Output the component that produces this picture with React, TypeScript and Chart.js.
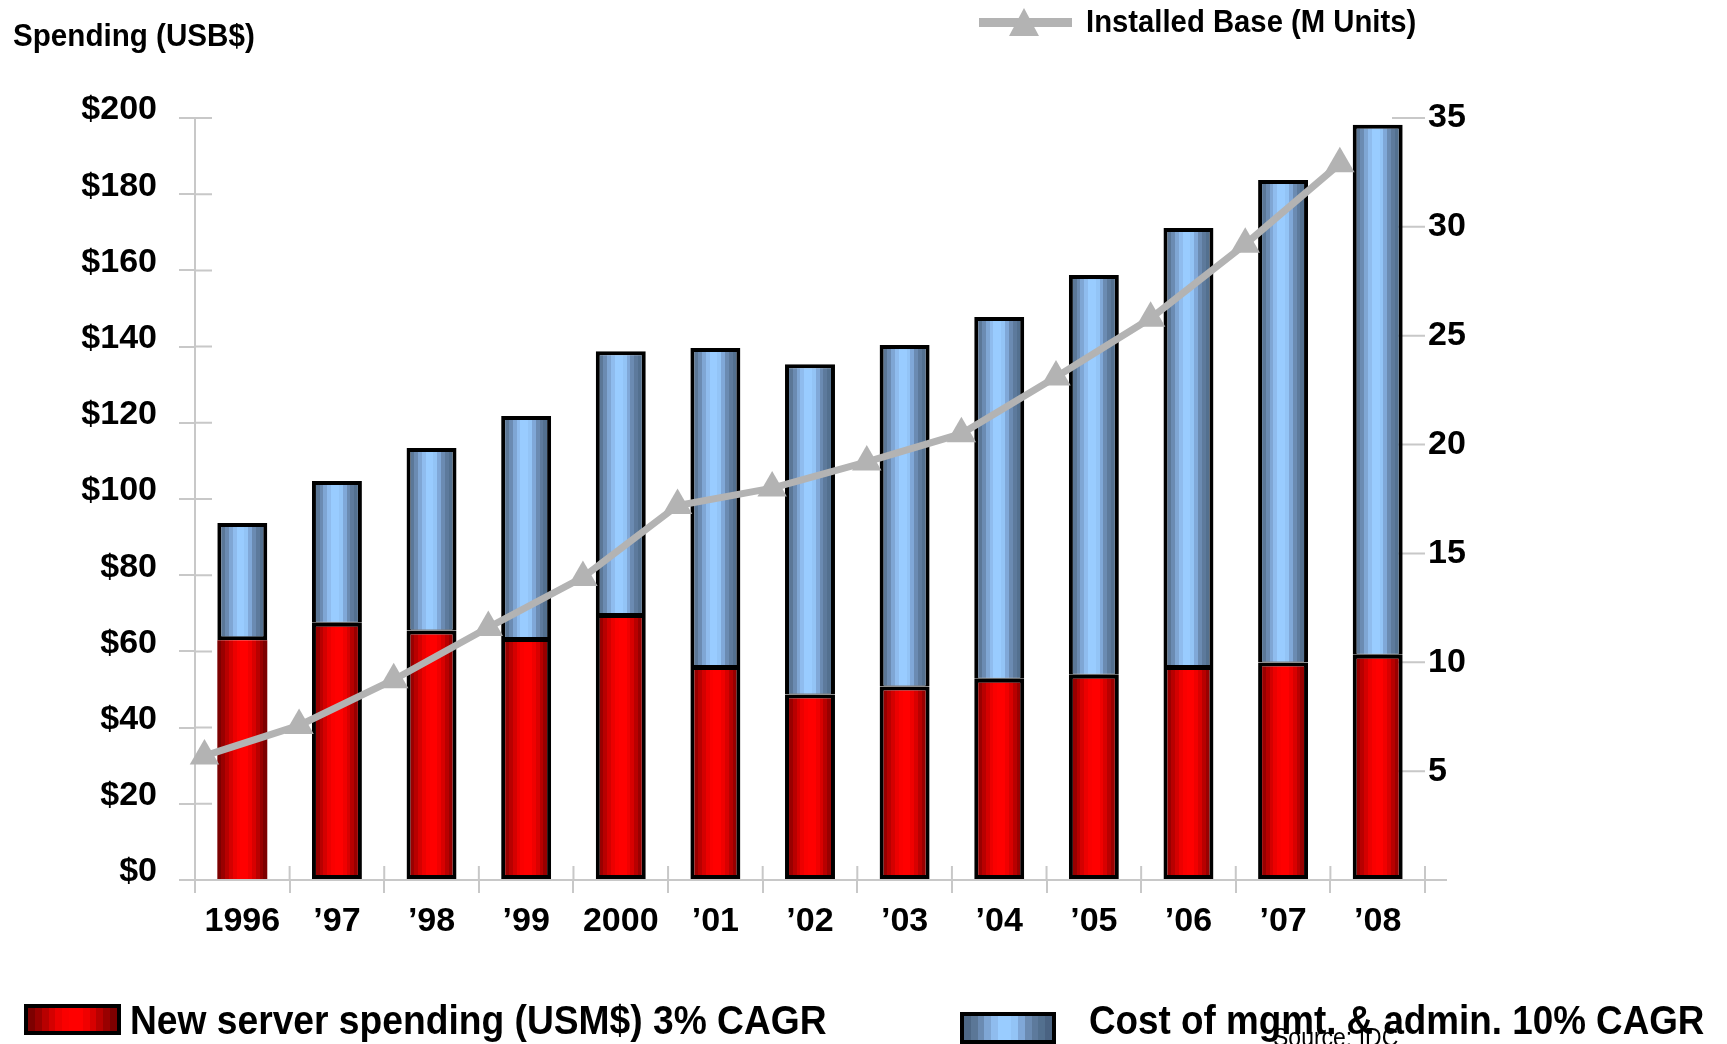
import React, { useEffect, useRef } from 'react';
import { Chart, registerables } from 'chart.js';

Chart.register(...registerables);

// ---------- data ----------
const categories = ['1996', '\u201997', '\u201998', '\u201999', '2000', '\u201901', '\u201902', '\u201903', '\u201904', '\u201905', '\u201906', '\u201907', '\u201908'];
const newServerSpending = [62.9, 67.5, 65.5, 63.5, 69.8, 56.2, 48.7, 50.8, 52.8, 53.9, 56.2, 57.1, 59.1];
const mgmtAdminCost = [30.8, 37.2, 47.9, 58.3, 69.0, 83.4, 86.7, 89.6, 95.0, 104.9, 114.9, 126.6, 139.1];
const installedBase = [5.7, 7.1, 9.2, 11.6, 13.9, 17.2, 18.0, 19.2, 20.5, 23.1, 25.8, 29.2, 32.9];
const spendingTicks = [0, 20, 40, 60, 80, 100, 120, 140, 160, 180, 200];
const unitTicks = [5, 10, 15, 20, 25, 30, 35];

const seriesNames = {
  server: 'New server spending (USM$) 3% CAGR',
  mgmt: 'Cost of mgmt. & admin. 10% CAGR',
  base: 'Installed Base (M Units)',
};

// ---------- styles ----------
const W = 1727;
const H = 1044;
const FONT = "'Liberation Sans', Arial, Helvetica, sans-serif";
const GRID = '#c8c8c8';
const LINE = '#b3b3b3';
const BAR_PCT = 0.528;
const LINE_SHIFT = 0.4; // the line is drawn slightly left of the bar centres
const redBands = ['#7d0000', '#990000', '#b80000', '#d40000', '#ec0000', '#fa0000', '#ff0000', '#ff0000', '#f00000', '#d80000', '#b80000', '#990000', '#7d0000'];
const blueBands = ['#4e6886', '#5b7797', '#6b8bb2', '#7fa6d4', '#8fbcee', '#99ccff', '#99ccff', '#93c4f6', '#80a8d8', '#6b8bb2', '#5d7a9c', '#53708f', '#4a6382'];

function cssBands(bands: string[]) {
  const n = bands.length;
  const parts: string[] = [];
  bands.forEach((c, i) => {
    parts.push(`${c} ${((i / n) * 100).toFixed(2)}%`);
    parts.push(`${c} ${(((i + 1) / n) * 100).toFixed(2)}%`);
  });
  return `linear-gradient(to right, ${parts.join(', ')})`;
}

function barGradient(bands: string[]) {
  return (ctx: any) => {
    const chart = ctx.chart;
    const x = chart.scales && chart.scales.x;
    if (!x || ctx.type !== 'data') return bands[6];
    const cx = x.getPixelForValue(ctx.dataIndex);
    const half = ((x.getPixelForValue(1) - x.getPixelForValue(0)) * BAR_PCT) / 2;
    if (!isFinite(cx) || !isFinite(half) || half <= 0) return bands[6];
    const g = chart.ctx.createLinearGradient(cx - half, 0, cx + half, 0);
    const n = bands.length;
    bands.forEach((c, i) => {
      g.addColorStop(i / n, c);
      g.addColorStop(Math.min(1, (i + 1) / n - 0.0001), c);
    });
    return g;
  };
}

const innerTicks = {
  id: 'innerTicks',
  beforeDatasetsDraw(chart: any) {
    const { ctx, chartArea: a, scales } = chart;
    ctx.save();
    ctx.strokeStyle = GRID;
    ctx.lineWidth = 2;
    ctx.beginPath();
    scales.y.ticks.forEach((t: any) => {
      const py = scales.y.getPixelForValue(t.value);
      ctx.moveTo(a.left, py);
      ctx.lineTo(a.left + 17, py);
    });
    scales.y2.ticks.forEach((t: any) => {
      if (!t.value) return;
      const py = scales.y2.getPixelForValue(t.value);
      ctx.moveTo(a.right - 33, py);
      ctx.lineTo(a.right, py);
    });
    for (let i = 0; i <= categories.length; i++) {
      const px = scales.x.getPixelForValue(i - 0.5);
      ctx.moveTo(px, a.bottom);
      ctx.lineTo(px, a.bottom - 14);
    }
    ctx.moveTo(a.right, a.bottom);
    ctx.lineTo(a.right + 22, a.bottom);
    ctx.stroke();
    ctx.restore();
  },
};

const textBase: React.CSSProperties = {
  position: 'absolute',
  fontFamily: FONT,
  fontWeight: 'bold',
  color: '#000',
  lineHeight: 1,
  whiteSpace: 'nowrap',
  transformOrigin: 'left center',
  margin: 0,
};

export default function App() {
  const canvasRef = useRef<HTMLCanvasElement | null>(null);

  useEffect(() => {
    const canvas = canvasRef.current;
    if (!canvas) return;
    const chart = new Chart(canvas, {
      type: 'bar',
      data: {
        labels: categories,
        datasets: [
          {
            type: 'line',
            label: seriesNames.base,
            data: installedBase.map((v, i) => ({ x: i, y: v })),
            xAxisID: 'x2',
            yAxisID: 'y2',
            borderColor: LINE,
            borderWidth: 7,
            tension: 0,
            pointStyle: 'triangle',
            pointRadius: 17,
            pointHoverRadius: 17,
            pointBackgroundColor: LINE,
            pointBorderColor: LINE,
            pointBorderWidth: 0,
            clip: false as any,
            order: 0,
          } as any,
          {
            type: 'bar',
            label: seriesNames.server,
            data: newServerSpending,
            stack: 'spend',
            grouped: false,
            xAxisID: 'x',
            yAxisID: 'y',
            backgroundColor: barGradient(redBands),
            borderColor: '#000',
            borderWidth: (ctx: any) => (ctx.dataIndex === 0 ? 0 : 4),
            borderSkipped: false,
            categoryPercentage: 1,
            barPercentage: BAR_PCT,
            order: 1,
          } as any,
          {
            type: 'bar',
            label: seriesNames.mgmt,
            data: mgmtAdminCost,
            stack: 'spend',
            grouped: false,
            xAxisID: 'x',
            yAxisID: 'y',
            backgroundColor: barGradient(blueBands),
            borderColor: '#000',
            borderWidth: (ctx: any) => ({ top: 4, left: 4, right: 4, bottom: ctx.dataIndex === 0 ? 4 : 1 }),
            borderSkipped: false,
            categoryPercentage: 1,
            barPercentage: BAR_PCT,
            order: 1,
          } as any,
        ],
      },
      options: {
        responsive: false,
        animation: false,
        devicePixelRatio: 1,
        layout: { padding: { top: 118, left: 0, right: 0, bottom: 0 } },
        plugins: {
          legend: { display: false },
          tooltip: { enabled: false },
          title: { display: false },
        },
        scales: {
          x: {
            type: 'category',
            stacked: true,
            offset: true,
            afterFit: (s: any) => {
              s.height = H - 880;
            },
            grid: { drawOnChartArea: false, tickLength: 13, color: GRID, lineWidth: 2, offset: true },
            border: { display: true, color: GRID, width: 2 },
            ticks: {
              font: { family: FONT, size: 34, weight: 'bold' },
              color: '#000',
              padding: 8,
              maxRotation: 0,
              autoSkip: false,
            },
          },
          x2: {
            type: 'linear',
            display: false,
            offset: false,
            grace: 0,
            min: -0.5 + LINE_SHIFT,
            max: categories.length - 0.5 + LINE_SHIFT,
            grid: { offset: false },
          },
          y: {
            type: 'linear',
            position: 'left',
            stacked: true,
            min: 0,
            max: 200,
            afterFit: (s: any) => {
              s.width = 195;
            },
            afterBuildTicks: (s: any) => {
              s.ticks = spendingTicks.map((v) => ({ value: v }));
            },
            grid: { drawOnChartArea: false, tickLength: 16, color: GRID, lineWidth: 2 },
            border: { display: true, color: GRID, width: 2 },
            ticks: {
              font: { family: FONT, size: 34, weight: 'bold' },
              color: '#000',
              padding: 22,
              labelOffset: -8,
              callback: (v: any) => '$' + v,
            },
          },
          y2: {
            type: 'linear',
            position: 'right',
            min: 0,
            max: 35,
            afterFit: (s: any) => {
              s.width = W - 1425;
            },
            afterBuildTicks: (s: any) => {
              s.ticks = unitTicks.map((v) => ({ value: v }));
            },
            grid: { display: false, drawTicks: false },
            border: { display: false },
            ticks: {
              font: { family: FONT, size: 34, weight: 'bold' },
              color: '#000',
              padding: 3,
              callback: (v: any) => String(v),
            },
          },
        },
      } as any,
      plugins: [innerTicks],
    });
    return () => chart.destroy();
  }, []);

  return (
    <div
      style={{
        position: 'fixed',
        left: 0,
        top: 0,
        width: W,
        height: H,
        overflow: 'hidden',
        background: '#fff',
      }}
    >
      <canvas ref={canvasRef} width={W} height={H} style={{ position: 'absolute', left: 0, top: 0, width: W, height: H }} />

      <div style={{ ...textBase, left: 13, top: 20, fontSize: 31, transform: 'scaleX(0.955)' }}>Spending (USB$)</div>

      {/* top legend: installed base line */}
      <div style={{ position: 'absolute', left: 979, top: 18, width: 93, height: 9, background: LINE }} />
      <div
        style={{
          position: 'absolute',
          left: 1009,
          top: 8,
          width: 0,
          height: 0,
          borderLeft: '15px solid transparent',
          borderRight: '15px solid transparent',
          borderBottom: `28px solid ${LINE}`,
        }}
      />
      <div style={{ ...textBase, left: 1086, top: 5, fontSize: 32, transform: 'scaleX(0.915)' }}>{seriesNames.base}</div>

      {/* bottom legends */}
      <div
        style={{
          position: 'absolute',
          left: 24,
          top: 1004,
          width: 89,
          height: 23,
          border: '4px solid #000',
          background: cssBands(redBands),
        }}
      />
      <div style={{ ...textBase, left: 130, top: 1000, fontSize: 40, transform: 'scaleX(0.93)' }}>{seriesNames.server}</div>

      <div
        style={{
          position: 'absolute',
          left: 960,
          top: 1012,
          width: 88,
          height: 24,
          border: '4px solid #000',
          background: cssBands(blueBands),
        }}
      />
      <div style={{ ...textBase, left: 1089, top: 1000, fontSize: 40, transform: 'scaleX(0.92)' }}>{seriesNames.mgmt}</div>

      <div style={{ ...textBase, fontWeight: 'normal', left: 1273, top: 1025, fontSize: 25, transform: 'scaleX(0.92)' }}>Source: IDC</div>
    </div>
  );
}
